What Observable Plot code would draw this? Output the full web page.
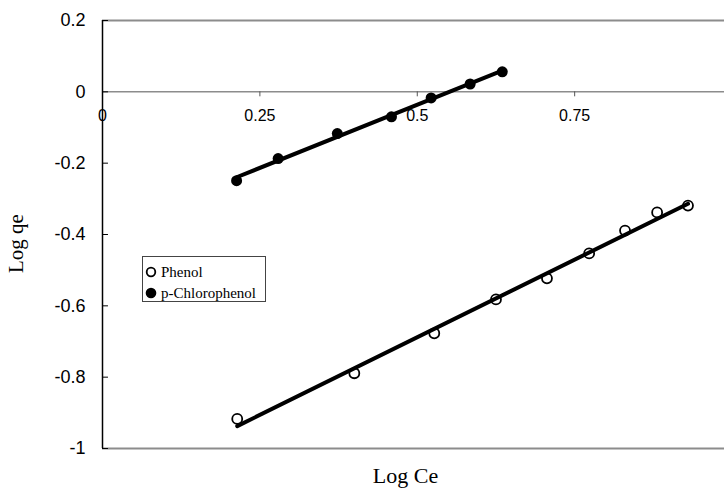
<!DOCTYPE html>
<html>
<head>
<meta charset="utf-8">
<script src="https://cdn.jsdelivr.net/npm/d3@7"></script>
<script src="https://cdn.jsdelivr.net/npm/@observablehq/plot@0.6"></script>
<style>
  body { margin: 0; background: #fff; overflow: hidden; }
  #chart { position: relative; width: 724px; height: 490px; }
  .legend {
    position: absolute; left: 142px; top: 256px; width: 122px; height: 44px;
    border: 1px solid #444; background: #fff;
    font-family: "Liberation Serif", "Times New Roman", serif; font-size: 15px; color: #000;
  }
  .legend .row { position: absolute; left: 0; height: 18px; display: flex; align-items: center; white-space: nowrap; }
  .legend svg { display: block; margin-left: 2px; margin-right: 4px; }
</style>
</head>
<body>
<div id="chart"></div>
<script>
// Freundlich isotherm: log qe versus log Ce
const xTicks = [0, 0.25, 0.5, 0.75];
const yTicks = [0.2, 0, -0.2, -0.4, -0.6, -0.8, -1];

const phenolLogCe = [0.214, 0.400, 0.527, 0.625, 0.706, 0.773, 0.830, 0.881, 0.930];
const phenolLogQe = [-0.917, -0.789, -0.677, -0.582, -0.523, -0.453, -0.389, -0.338, -0.319];

const chloroLogCe = [0.213, 0.279, 0.373, 0.459, 0.522, 0.584, 0.635];
const chloroLogQe = [-0.249, -0.187, -0.117, -0.070, -0.017, 0.022, 0.056];

const seriesNames = ["Phenol", "p-Chlorophenol"];

const phenol = phenolLogCe.map((x, i) => ({x, y: phenolLogQe[i]}));
const chloro = chloroLogCe.map((x, i) => ({x, y: chloroLogQe[i]}));

const serif = "Liberation Serif, Times New Roman, serif";
const sans = "Liberation Sans, Arial, sans-serif";

const chart = Plot.plot({
  width: 724,
  height: 490,
  marginLeft: 102,
  marginRight: 0,
  marginTop: 20,
  marginBottom: 42,
  style: {fontFamily: sans, background: "#fff"},
  x: {domain: [0, 0.988], axis: null},
  y: {domain: [-1, 0.2]},
  marks: [
    // plot area top/bottom edges and the horizontal axis at log qe = 0
    Plot.ruleY([0.2, -1], {stroke: "#8c8c8c", strokeWidth: 2}),
    Plot.ruleY([0], {stroke: "#8c8c8c", strokeWidth: 1.5}),
    Plot.ruleX(xTicks.filter(d => d > 0), {y1: 0, y2: -0.014, stroke: "#555", strokeWidth: 1}),
    Plot.text(xTicks, {x: d => d, y: 0, dy: 24, text: d => String(d), fontSize: 16, fontFamily: sans}),
    // vertical axis
    Plot.ruleX([0], {y1: -1, y2: 0.2, stroke: "#000", strokeWidth: 1.5}),
    Plot.ruleY(yTicks, {x1: 0, x2: 0.0095, stroke: "#000", strokeWidth: 1}),
    Plot.axisY({ticks: yTicks, tickSize: 0, tickPadding: 17, fontSize: 18, tickFormat: d => String(d), label: null}),
    // axis titles
    Plot.text(["Log Ce"], {frameAnchor: "bottom", dy: 34, dx: -8, fontSize: 22, fontFamily: serif}),
    Plot.text(["Log qe"], {frameAnchor: "left", textAnchor: "middle", dx: -86, dy: 9, rotate: -90, fontSize: 21, fontFamily: serif}),
    // observations
    Plot.dot(phenol, {x: "x", y: "y", r: 5, stroke: "#000", strokeWidth: 1.8, fill: "#fff"}),
    Plot.dot(chloro, {x: "x", y: "y", r: 5.5, fill: "#000", stroke: "none"}),
    // least-squares fits
    Plot.linearRegressionY(phenol, {x: "x", y: "y", stroke: "#000", strokeWidth: 4, ci: 0}),
    Plot.linearRegressionY(chloro, {x: "x", y: "y", stroke: "#000", strokeWidth: 4, ci: 0})
  ]
});

const root = document.getElementById("chart");
root.appendChild(chart);

// legend box
const legend = document.createElement("div");
legend.className = "legend";
const symbols = [
  '<svg width="12" height="12"><circle cx="6" cy="6" r="4.3" fill="#fff" stroke="#000" stroke-width="1.8"/></svg>',
  '<svg width="12" height="12"><circle cx="6" cy="6" r="5.3" fill="#000"/></svg>'
];
seriesNames.forEach((name, i) => {
  const row = document.createElement("div");
  row.className = "row";
  row.style.top = (i === 0 ? 6 : 27) + "px";
  row.innerHTML = symbols[i] + "<span>" + name + "</span>";
  legend.appendChild(row);
});
root.appendChild(legend);
</script>
</body>
</html>
